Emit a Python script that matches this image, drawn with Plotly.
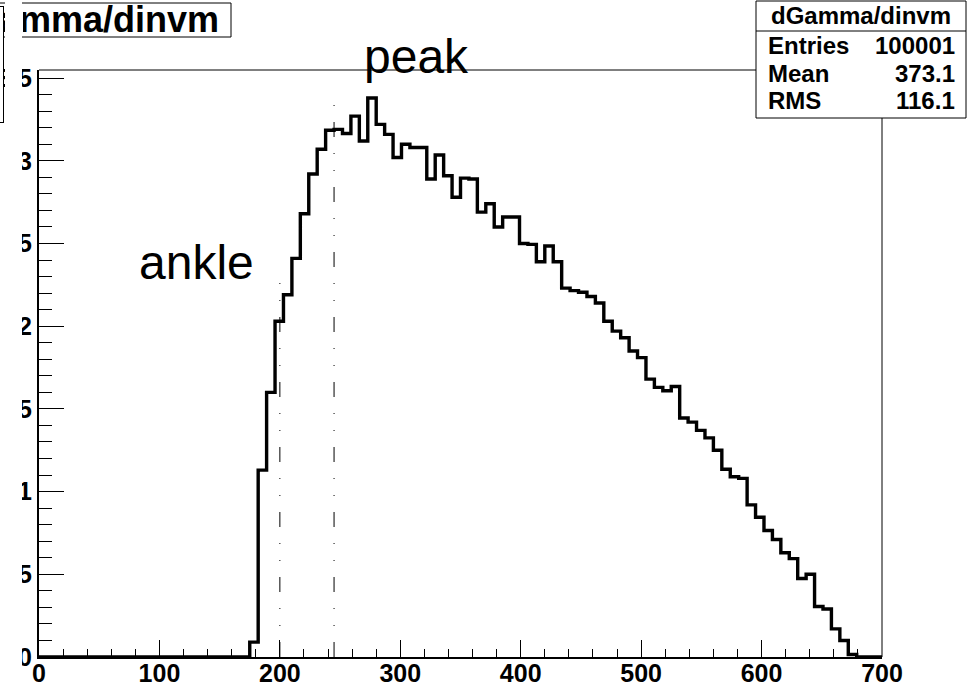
import plotly.graph_objects as go

# ---- data (y in axis units) ----
x_min, x_max, n_bins = 0, 700, 100
bin_values = [
    0, 0, 0, 0, 0, 0, 0, 0, 0, 0,
    0, 0, 0, 0, 0, 0, 0, 0, 0, 0,
    0, 0, 0, 0, 0, 0.09, 1.13, 1.60, 2.03, 2.19,
    2.41, 2.68, 2.92, 3.07, 3.185, 3.19, 3.165, 3.27, 3.12, 3.38,
    3.22, 3.16, 3.02, 3.10, 3.08, 3.08, 2.89, 3.035, 2.91, 2.78,
    2.895, 2.89, 2.69, 2.74, 2.60, 2.66, 2.66, 2.50, 2.495, 2.39,
    2.485, 2.39, 2.23, 2.215, 2.205, 2.18, 2.14, 2.03, 1.97, 1.93,
    1.85, 1.81, 1.68, 1.63, 1.61, 1.635, 1.445, 1.42, 1.37, 1.325,
    1.25, 1.135, 1.09, 1.08, 0.92, 0.845, 0.765, 0.71, 0.63, 0.595,
    0.475, 0.50, 0.305, 0.29, 0.17, 0.10, 0.015, 0, 0, 0,
]
marker_names = ["ankle", "peak"]
marker_x = [200, 245]
marker_top = [2.29, 3.35]
label_x = [81.4, 268.2]
label_y = [2.388, 3.628]

hist_title = "dGamma/dinvm"
stat_names = ["Entries", "Mean", "RMS"]
stat_values = ["100001", "373.1", "116.1"]

y_ticks = [0, 0.5, 1, 1.5, 2, 2.5, 3, 3.5]
y_ticktext = ["0", "0.5", "1", "1.5", "2", "2.5", "3", "3.5"]
x_ticks = [0, 100, 200, 300, 400, 500, 600, 700]

# ---- geometry helpers ----
W, H = 980, 685
L, R, T, B = 39, 98, 70, 28
PW, PH = W - L - R, H - T - B


def pxx(xp):
    return (xp - L) / PW


def pxy(yp):
    return (H - B - yp) / PH


bw = (x_max - x_min) / n_bins
edges = [x_min + i * bw for i in range(n_bins + 1)]
step_y = bin_values + [bin_values[-1]]
y_top = max(bin_values) * 1.05

FONT = "Liberation Sans"

fig = go.Figure()
fig.add_trace(go.Scatter(
    x=edges, y=step_y, mode="lines", line_shape="hv",
    line=dict(color="black", width=3.4), hoverinfo="skip", showlegend=False,
))
for mx, mt in zip(marker_x, marker_top):
    fig.add_trace(go.Scatter(
        x=[mx, mx], y=[0, mt], mode="lines",
        line=dict(color="black", width=1, dash="15px,16px,1px,16px,1px,16px"),
        hoverinfo="skip", showlegend=False,
    ))

shapes = [
    # frame top / right
    dict(type="line", xref="paper", yref="paper", x0=0, x1=1, y0=1, y1=1,
         line=dict(color="black", width=1)),
    dict(type="line", xref="paper", yref="paper", x0=1, x1=1, y0=0, y1=1,
         line=dict(color="black", width=1)),
    # title box
    dict(type="rect", xref="paper", yref="paper", x0=pxx(-120), x1=pxx(231),
         y0=pxy(37), y1=pxy(3), line=dict(color="black", width=1),
         fillcolor="white", layer="above"),
    # stats box
    dict(type="rect", xref="paper", yref="paper", x0=pxx(756), x1=pxx(966),
         y0=pxy(118), y1=pxy(1), line=dict(color="black", width=1),
         fillcolor="white", layer="above"),
    dict(type="line", xref="paper", yref="paper", x0=pxx(756), x1=pxx(966),
         y0=pxy(31), y1=pxy(31), line=dict(color="black", width=1), layer="above"),
]


def box(x0, x1, y0, y1, border=0):
    """white box annotation covering pixel region (x0..x1, y0..y1)"""
    return dict(
        text=" ", xref="paper", yref="paper",
        x=pxx((x0 + x1) / 2), y=pxy((y0 + y1) / 2),
        xanchor="center", yanchor="middle", showarrow=False,
        width=max(1, x1 - x0 - 2 * border), height=max(1, y1 - y0 - 2 * border),
        borderpad=0, bgcolor="white",
        bordercolor="black" if border else "rgba(0,0,0,0)", borderwidth=border,
    )


annotations = []
# title text
annotations.append(dict(
    text=hist_title, xref="paper", yref="paper", x=pxx(221), y=pxy(20),
    xanchor="right", yanchor="middle", showarrow=False,
    font=dict(family=FONT, size=36, color="black", weight="bold"),
))
# left box (partly off-page) and masking strips
annotations.append(box(-150, 4, 6, 123, border=1))
annotations.append(box(0, 21.5, 124, 700))
annotations.append(box(4.5, 21.5, -10, 124))
annotations.append(box(4.5, 22.5, 4.5, 35.5))
# labels
for name, lx, ly in zip(marker_names, label_x, label_y):
    annotations.append(dict(
        text=name, x=lx, y=ly / y_top, xref="x", yref="paper", xanchor="left",
        yanchor="middle", showarrow=False,
        font=dict(family=FONT, size=48, color="black"),
    ))
# stats
annotations.append(dict(
    text=hist_title, xref="paper", yref="paper", x=pxx(861), y=pxy(16),
    xanchor="center", yanchor="middle", showarrow=False,
    font=dict(family=FONT, size=24, color="black", weight="bold"),
))
row_y = [46, 73, 100]
for nm, val, ry in zip(stat_names, stat_values, row_y):
    annotations.append(dict(
        text=nm, xref="paper", yref="paper", x=pxx(766), y=pxy(ry),
        xanchor="left", yanchor="middle", showarrow=False,
        font=dict(family=FONT, size=24, color="black", weight="bold"),
    ))
    annotations.append(dict(
        text=val, xref="paper", yref="paper", x=pxx(957), y=pxy(ry),
        xanchor="right", yanchor="middle", showarrow=False,
        font=dict(family=FONT, size=24, color="black", weight="bold"),
    ))

fig.update_layout(
    width=W, height=H, margin=dict(l=L, r=R, t=T, b=B, autoexpand=False),
    paper_bgcolor="white", plot_bgcolor="white",
    shapes=shapes, annotations=annotations,
    xaxis=dict(
        range=[x_min, x_max], showgrid=False, zeroline=False,
        showline=True, linecolor="black", linewidth=2,
        ticks="inside", ticklen=17, tickwidth=1, tickcolor="black",
        tickvals=x_ticks, ticklabelstandoff=-7,
        tickfont=dict(family=FONT, size=25, color="black", weight="bold"),
        minor=dict(ticks="inside", ticklen=8.5, tickwidth=1, tickcolor="black",
                   dtick=20, tick0=0, showgrid=False),
    ),
    yaxis=dict(
        range=[0, y_top], showgrid=False, zeroline=False,
        showline=True, linecolor="black", linewidth=2,
        ticks="inside", ticklen=25, tickwidth=1, tickcolor="black",
        tickvals=y_ticks, ticktext=y_ticktext, ticklabelstandoff=0,
        tickfont=dict(family=FONT, size=25, color="black", weight="bold"),
        minor=dict(ticks="inside", ticklen=12.5, tickwidth=1, tickcolor="black",
                   dtick=0.1, tick0=0, showgrid=False),
    ),
)

fig.write_html("out.html")
